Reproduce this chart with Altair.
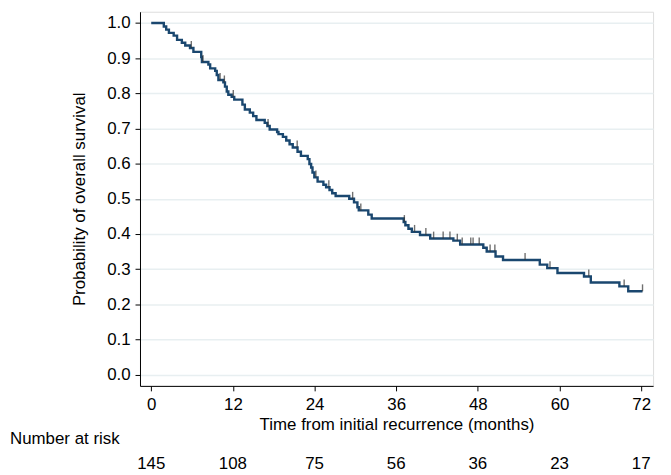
import altair as alt
import pandas as pd

# Kaplan-Meier step points (time in months, survival after the drop)
step_times = [0, 1.85, 2.2, 2.6, 3.3, 3.8, 4.5, 5.0, 5.7, 6.2, 7.35, 7.45, 8.4, 8.66, 9.4,
              9.63, 9.87, 10.6, 10.84, 11.1, 11.33, 11.82, 12.2, 13.4, 13.76, 14.49, 14.98,
              15.46, 16.68, 17.07, 17.41, 18.5, 18.7, 19.35, 19.84, 20.33, 20.8, 21.5, 22.0,
              23.0, 23.25, 23.5, 23.7, 23.97, 24.45, 25.3, 25.7, 26.2, 26.6, 27.1, 29.1, 29.8,
              30.3, 30.5, 31.9, 32.4, 37.1, 37.35, 37.8, 38.3, 39.5, 41.0, 44.4, 45.4, 48.8,
              49.3, 50.6, 51.7, 57.1, 58.2, 59.7, 63.6, 64.6, 68.8, 70.1, 72.2]
step_surv = [1.000, 0.990, 0.981, 0.972, 0.964, 0.952, 0.944, 0.936, 0.929, 0.918, 0.903,
             0.889, 0.882, 0.871, 0.864, 0.852, 0.838, 0.831, 0.819, 0.805, 0.796, 0.790,
             0.782, 0.768, 0.754, 0.745, 0.735, 0.724, 0.716, 0.707, 0.697, 0.690, 0.684,
             0.676, 0.666, 0.655, 0.646, 0.634, 0.622, 0.613, 0.599, 0.589, 0.575, 0.561,
             0.549, 0.540, 0.533, 0.525, 0.516, 0.508, 0.500, 0.490, 0.476, 0.467, 0.455,
             0.444, 0.434, 0.425, 0.415, 0.406, 0.397, 0.387, 0.381, 0.370, 0.361, 0.350,
             0.336, 0.326, 0.313, 0.303, 0.289, 0.279, 0.262, 0.251, 0.237, 0.237]

# censored observations (months)
censor_times = [5.89, 7.6, 10.12, 10.75, 12.06, 17.17, 21.45, 24.2, 26.1, 29.6, 30.8, 37.2,
                38.7, 40.36, 41.5, 42.9, 43.9, 44.98, 45.7, 46.96, 47.3, 48.2, 49.8, 50.5,
                54.94, 58.6, 64.3, 69.5, 72.2]

risk_times = [0, 12, 24, 36, 48, 60, 72]
risk_counts = [145, 108, 75, 56, 36, 23, 17]

FONT = "Liberation Sans"
FS = 17


def surv_at(t):
    s = step_surv[0]
    for tt, ss in zip(step_times, step_surv):
        if tt <= t:
            s = ss
    return s


df_curve = pd.DataFrame({"t": step_times, "s": step_surv})
df_cens = pd.DataFrame({"t": censor_times, "s": [surv_at(t) for t in censor_times]})
df_risk = pd.DataFrame({"t": risk_times, "n": [str(n) for n in risk_counts]})
df_lab = pd.DataFrame({"label": ["Number at risk"]})

xs = alt.Scale(domain=[-1.65, 73.75], nice=False, zero=False)
ys = alt.Scale(domain=[-0.032, 1.032], nice=False, zero=False)

x_axis = alt.Axis(values=risk_times, grid=False, tickSize=5, labelPadding=6,
                  titlePadding=4, labelFontSize=FS, titleFontSize=FS,
                  titleFontWeight="normal", labelFont=FONT, titleFont=FONT,
                  domainColor="black", tickColor="black", labelColor="black",
                  titleColor="black", labelFlush=False)
y_axis = alt.Axis(values=[i / 10 for i in range(11)], format=".1f", grid=True,
                  gridColor="#e8eff1", gridWidth=1.5, tickSize=5, labelPadding=5,
                  titlePadding=18, labelFontSize=FS, titleFontSize=FS,
                  titleFontWeight="normal", labelFont=FONT, titleFont=FONT,
                  domainColor="black", tickColor="black", labelColor="black",
                  titleColor="black")

x_enc = alt.X("t:Q", scale=xs, axis=x_axis, title="Time from initial recurrence (months)")
y_enc = alt.Y("s:Q", scale=ys, axis=y_axis, title="Probability of overall survival")

curve = alt.Chart(df_curve).mark_line(
    interpolate="step-after", color="#1a476f", strokeWidth=2.4
).encode(x=x_enc, y=y_enc)

cens = alt.Chart(df_cens).mark_tick(
    orient="vertical", size=7, thickness=1.4, color="#333333", yOffset=-3.5
).encode(x=x_enc, y=y_enc)

risk = alt.Chart(df_risk).mark_text(
    font=FONT, fontSize=FS, align="center", baseline="middle", color="black"
).encode(x=x_enc, y=alt.value(456), text="n:N")

risk_label = alt.Chart(df_lab).mark_text(
    font=FONT, fontSize=FS, align="left", baseline="middle", color="black"
).encode(x=alt.value(-131), y=alt.value(431), text="label:N")

chart = alt.layer(curve, cens, risk, risk_label).properties(
    width=517, height=377,
    autosize=alt.AutoSizeParams(type="none"),
    padding={"left": 133, "top": 2, "right": 10, "bottom": 85},
).configure_view(stroke=None).configure(background="white")

chart.save("out.html", embed_options={"renderer": "svg", "actions": False})
